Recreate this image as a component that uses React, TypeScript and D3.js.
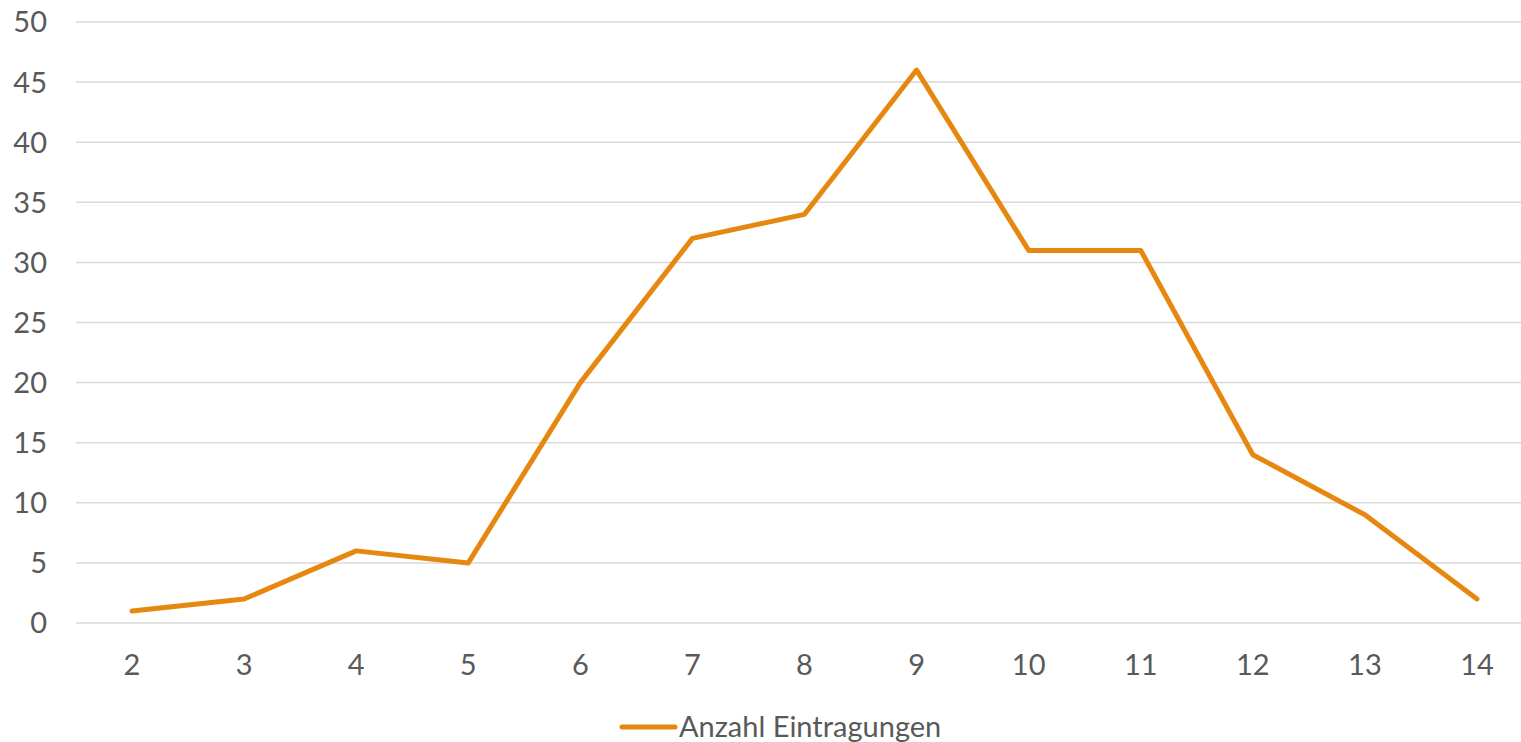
import React from "react";
import * as d3 from "d3";

const categories = ["2", "3", "4", "5", "6", "7", "8", "9", "10", "11", "12", "13", "14"];
const values = [1, 2, 6, 5, 20, 32, 34, 46, 31, 31, 14, 9, 2];
const yTicks = [0, 5, 10, 15, 20, 25, 30, 35, 40, 45, 50];
const seriesName = "Anzahl Eintragungen";

export default function App() {
  const W = 1521;
  const H = 742;
  const x = d3.scalePoint<string>().domain(categories).range([76, 1533]).padding(0.5);
  const y = d3.scaleLinear().domain([0, 50]).range([623, 22]);
  const line = d3
    .line<number>()
    .x((_, i) => x(categories[i]) as number)
    .y((d) => y(d));
  const textColor = "#595959";
  const font = "Lato, 'Open Sans', sans-serif";
  const fs = 29;
  return (
    <svg
      width={W}
      height={H}
      style={{ position: "absolute", left: 0, top: 0, display: "block" }}
      fontFamily={font}
    >
      <rect width={W} height={H} fill="#fff" />
      {yTicks.map((t) => (
        <g key={t}>
          <line x1={76} x2={1533} y1={y(t)} y2={y(t)} stroke="#d9d9d9" strokeWidth={1.5} />
          <text x={47} y={y(t)} dy="0.36em" textAnchor="end" fontSize={fs} fill={textColor}>
            {t}
          </text>
        </g>
      ))}
      {categories.map((c) => (
        <text key={c} x={x(c)} y={665} dy="0.36em" textAnchor="middle" fontSize={fs} fill={textColor}>
          {c}
        </text>
      ))}
      <path
        d={line(values) || ""}
        fill="none"
        stroke="#E6870F"
        strokeWidth={5}
        strokeLinecap="round"
        strokeLinejoin="round"
      />
      <line x1={622} x2={675} y1={727} y2={727} stroke="#E6870F" strokeWidth={5} strokeLinecap="round" />
      <text x={679} y={727} dy="0.36em" fontSize={fs} fill={textColor}>
        {seriesName}
      </text>
    </svg>
  );
}
